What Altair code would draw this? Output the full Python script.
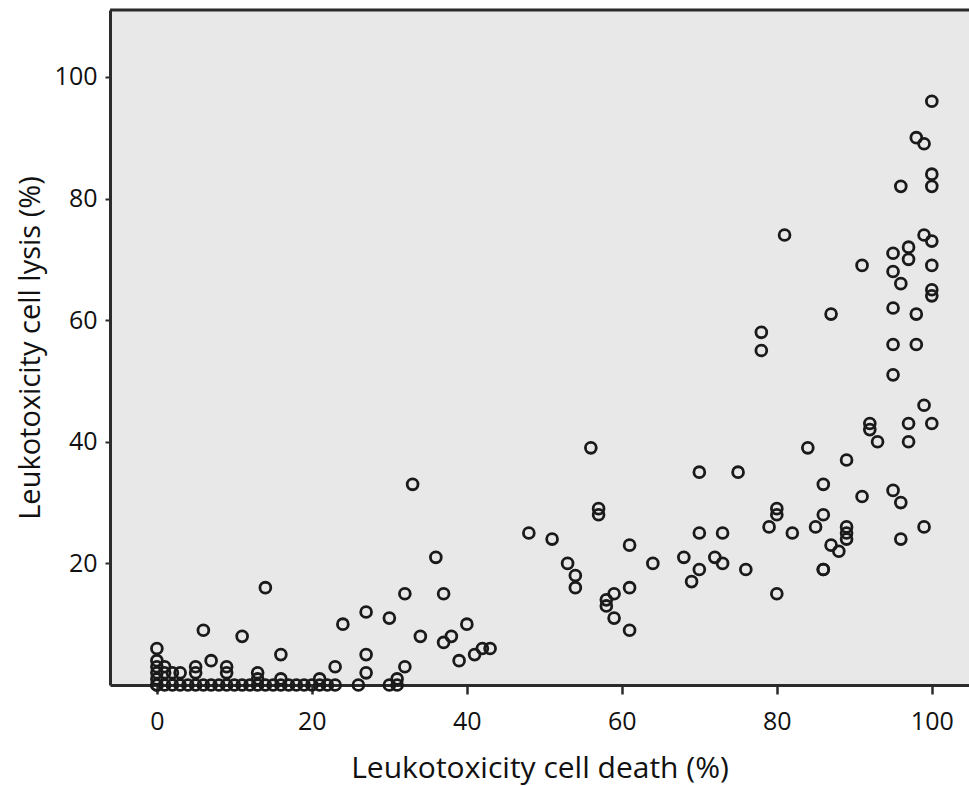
import altair as alt
import pandas as pd

# Leukotoxicity cell death (%) vs cell lysis (%)
death = [
    0, 0, 1, 2, 3, 4, 5, 6, 7, 8, 9, 10, 11, 12, 13, 14, 15, 16, 17, 18, 19, 20,
    21, 22, 23, 26, 30, 31,
    0, 0, 0, 0, 0,
    1, 1, 2, 3, 5, 5, 7, 6, 9, 9, 11, 13, 13, 14, 16, 16, 21, 23, 24, 27, 27, 27,
    30, 31, 32, 32, 33, 34, 36, 37, 37, 38, 39, 40, 41, 42, 43,
    48, 51, 53, 54, 54, 56, 57, 57, 58, 58, 59, 59, 61, 61, 61, 64, 68, 69, 70, 70,
    70, 72, 73, 73, 75, 76,
    78, 78, 79, 80, 80, 80, 81, 82, 84, 85, 86, 86, 86, 86, 87, 87, 88, 89, 89, 89,
    89, 91, 91, 92, 92, 93, 95, 95, 95, 95, 95, 95, 96, 96, 96, 96, 97, 97, 97, 97,
    98, 98, 98, 99, 99, 99, 99, 100, 100, 100, 100, 100, 100, 100, 100,
]
lysis = [
    0, 0, 0, 0, 0, 0, 0, 0, 0, 0, 0, 0, 0, 0, 0, 0, 0, 0, 0, 0, 0, 0,
    0, 0, 0, 0, 0, 0,
    1, 2, 3, 4, 6,
    3, 2, 2, 2, 3, 2, 4, 9, 3, 2, 8, 2, 1, 16, 5, 1, 1, 3, 10, 12, 5, 2,
    11, 1, 15, 3, 33, 8, 21, 15, 7, 8, 4, 10, 5, 6, 6,
    25, 24, 20, 18, 16, 39, 29, 28, 14, 13, 15, 11, 23, 16, 9, 20, 21, 17, 35, 25,
    19, 21, 25, 20, 35, 19,
    58, 55, 26, 29, 28, 15, 74, 25, 39, 26, 33, 28, 19, 19, 61, 23, 22, 37, 26, 25,
    24, 69, 31, 43, 42, 40, 71, 68, 62, 56, 51, 32, 82, 66, 30, 24, 72, 70, 43, 40,
    90, 61, 56, 89, 74, 46, 26, 96, 84, 82, 73, 69, 65, 64, 43,
]

x_ticks = [0, 20, 40, 60, 80, 100]
y_ticks = [20, 40, 60, 80, 100]

df = pd.DataFrame({"death": death, "lysis": lysis})

W, H = 859, 675
FONT = "Open Sans"
AX = "#2b2b2b"

points = alt.Chart(df).mark_point(
    shape="circle", filled=False, size=118, strokeWidth=2.8, color="#1a1a1a", opacity=1
).encode(
    x=alt.X(
        "death:Q",
        scale=alt.Scale(domain=[-6.05, 104.8], nice=False, zero=False),
        axis=alt.Axis(
            values=x_ticks, title="Leukotoxicity cell death (%)", grid=False,
            domainColor=AX, domainWidth=3, tickColor=AX, tickWidth=2.5, tickSize=9,
            labelFont=FONT, labelFontSize=25, labelColor="#111", labelPadding=15,
            titleFont=FONT, titleFontSize=30, titleFontWeight="normal", titleColor="#111",
            titleY=83, titleBaseline="middle",
        ),
    ),
    y=alt.Y(
        "lysis:Q",
        scale=alt.Scale(domain=[0, 111], nice=False),
        axis=alt.Axis(
            values=y_ticks, title="Leukotoxicity cell lysis (%)", grid=False,
            domainColor=AX, domainWidth=3, tickColor=AX, tickWidth=2, tickSize=5,
            labelFont=FONT, labelFontSize=25, labelColor="#111", labelPadding=8,
            titleFont=FONT, titleFontSize=29, titleFontWeight="normal", titleColor="#111",
            titleX=-80, titleBaseline="middle",
        ),
    ),
)

top_line = alt.Chart(pd.DataFrame({"a": [0]})).mark_rule(
    color=AX, strokeWidth=3
).encode(y=alt.value(0), x=alt.value(0), x2=alt.value(W))

chart = alt.layer(points, top_line).properties(
    width=W, height=H,
    autosize=alt.AutoSizeParams(type="none"),
    padding={"left": 110, "top": 10, "right": 0, "bottom": 101},
    background="white",
).configure_view(stroke=None, fill="#e8e8e8")

chart.save("out.html", embed_options={"renderer": "svg", "actions": False})
